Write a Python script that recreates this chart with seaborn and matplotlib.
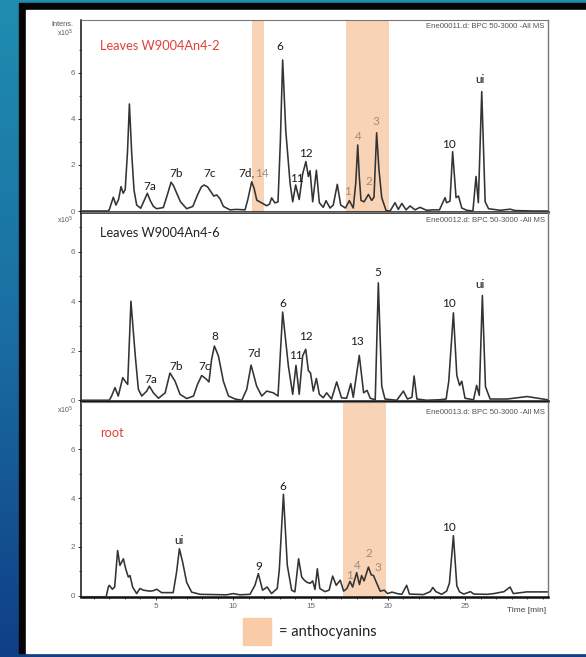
import numpy as np
import pandas as pd
import matplotlib
matplotlib.use("Agg")
import matplotlib.pyplot as plt
import seaborn as sns
from matplotlib.patches import Rectangle
from matplotlib.colors import LinearSegmentedColormap

sns.set_theme(style="white")
plt.rcParams['font.family'] = ['Lato', 'DejaVu Sans']

# ---------------- data ----------------
t1 = [0.2, 1.9, 2.0, 2.26, 2.43, 2.6, 2.76, 2.9, 3.03, 3.18, 3.30, 3.45, 3.6, 3.77, 4.03, 4.25, 4.46,
      4.65, 4.85, 5.06, 5.49, 5.75, 5.99, 6.15, 6.36, 6.6, 7.0, 7.2, 7.4, 7.7, 7.95, 8.12, 8.35, 8.6,
      8.75, 8.94, 9.16, 9.37, 9.8, 10.23, 10.77, 10.95, 11.2, 11.35, 11.53, 11.85, 12.17, 12.35, 12.49,
      12.7, 12.9, 13.05, 13.2, 13.4, 13.68, 13.85, 14.04, 14.27, 14.49, 14.7, 14.86, 14.97, 15.14,
      15.38, 15.57, 15.82, 16.0, 16.26, 16.47, 16.73, 16.95, 17.25, 17.51, 17.76, 17.92, 18.05, 18.15,
      18.26, 18.46, 18.74, 18.95, 19.1, 19.27, 19.42, 19.6, 19.88, 20.14, 20.46, 20.67, 20.9, 21.17,
      21.43, 21.75, 22.07, 22.5, 22.9, 23.33, 23.69, 23.79, 24.01, 24.18, 24.4, 24.56, 24.77, 25.1,
      25.49, 25.69, 25.84, 26.06, 26.28, 26.5, 27.25, 27.9, 28.2, 29.4, 30.3]
i1 = [0.0, 0.0, 0.05, 0.6, 0.26, 0.5, 1.06, 0.77, 0.94, 2.6, 4.65, 2.5, 0.9, 0.26, 0.12, 0.45, 0.77,
      0.45, 0.2, 0.1, 0.15, 0.7, 1.25, 1.1, 0.77, 0.4, 0.1, 0.15, 0.2, 0.7, 1.05, 1.13, 1.05, 0.8,
      0.65, 0.7, 0.52, 0.2, 0.05, 0.07, 0.05, 0.5, 1.27, 1.0, 0.47, 0.35, 0.23, 0.3, 0.57,
      0.35, 0.4, 3.0, 6.56, 3.5, 1.2, 0.4, 1.13, 0.5, 1.6, 2.15, 1.5, 1.75, 0.4,
      1.77, 0.36, 0.16, 0.45, 0.13, 0.26, 1.16, 0.26, 0.13, 0.45, 0.13, 1.2, 2.87, 1.5,
      0.46, 0.4, 0.72, 0.46, 0.6, 3.4, 1.8, 0.58, 0.02, 0.0, 0.36, 0.07, 0.33, 0.05,
      0.22, 0.05, 0.16, 0.03, 0.05, 0.05, 0.58, 0.36, 0.43, 2.58, 0.58, 0.65, 0.13, 0.03,
      0.0, 1.5, 0.36, 5.19, 0.4, 0.1, 0.03, 0.08, 0.02, 0.0, 0.0]

t2 = [0.2, 2.0, 2.15, 2.37, 2.58, 2.87, 3.06, 3.19, 3.40, 3.55, 3.7, 3.88, 4.1, 4.42, 4.59, 4.85,
      5.18, 5.61, 5.92, 6.25, 6.57, 7.0, 7.44, 7.7, 7.97, 8.29, 8.44, 8.61, 8.79, 9.05, 9.37, 9.7,
      10.13, 10.56, 10.88, 11.16, 11.52, 11.85, 12.17, 12.6, 12.9, 13.2, 13.57, 13.85, 14.06, 14.27,
      14.49, 14.69, 14.86, 15.0, 15.18, 15.38, 15.57, 15.82, 16.04, 16.36, 16.69, 17.0, 17.33, 17.6,
      17.76, 18.15, 18.43, 18.65, 18.86, 19.18, 19.38, 19.6, 19.81, 20.57, 21.0, 21.26, 21.55, 21.69,
      21.87, 22.5, 23.33, 23.76, 23.93, 24.23, 24.45, 24.63, 24.77, 24.98, 25.53, 25.73, 25.9, 26.1,
      26.3, 26.6, 27.7, 29.0, 30.3]
i2 = [0.0, 0.0, 0.17, 0.51, 0.17, 0.91, 0.74, 0.64, 4.0, 2.8, 1.65, 0.44, 0.17, 0.37, 0.57, 0.3,
      0.08, 0.3, 1.1, 0.77, 0.24, 0.07, 0.17, 0.64, 1.0, 0.84, 0.74, 1.65, 2.19, 1.79, 0.77, 0.17,
      0.05, 0.0, 0.44, 1.42, 0.57, 0.17, 0.37, 0.3, 0.17, 3.56, 1.38, 0.24, 1.41, 0.24,
      1.79, 2.06, 1.2, 1.1, 0.37, 0.88, 0.24, 0.1, 0.3, 0.05, 0.74, 0.1, 0.08, 0.67,
      0.12, 1.81, 0.3, 0.4, 0.08, 0.02, 4.74, 0.57, 0.05, 0.0, 0.37, 0.05, 0.12, 0.98,
      0.05, 0.0, 0.02, 0.05, 0.77, 3.53, 1.0, 0.6, 0.77, 0.08, 0.02, 0.6, 0.2, 4.23,
      0.55, 0.05, 0.05, 0.15, 0.02]

t3 = [0.2, 1.8, 1.94, 2.0, 2.2, 2.35, 2.54, 2.69, 2.8, 2.91, 3.06, 3.23, 3.34, 3.51, 3.77, 3.98, 4.2,
      4.63, 4.85, 5.06, 5.38, 6.13, 6.35, 6.53, 6.74, 7.0, 7.32, 7.86, 9.58, 10.01, 10.44, 11.09,
      11.41, 11.63, 11.9, 12.2, 12.48, 12.85, 12.98, 13.25, 13.5, 13.78, 13.99, 14.23, 14.43, 14.6,
      14.75, 14.97, 15.14, 15.29, 15.44, 15.6, 15.93, 16.2, 16.43, 16.66, 16.92, 17.14, 17.35, 17.55,
      17.72, 17.98, 18.16, 18.3, 18.46, 18.74, 18.92, 19.07, 19.28, 19.5, 19.76, 19.98, 20.26, 20.6,
      20.9, 21.21, 21.39, 21.87, 22.3, 22.73, 22.9, 23.1, 23.47, 23.79, 23.97, 24.23, 24.45, 24.63,
      24.9, 25.33, 25.55, 26.41, 26.84, 27.5, 27.89, 28.1, 28.97, 30.3]
i3 = [-0.05, -0.05, 0.35, 0.42, 0.26, 0.35, 1.85, 1.24, 1.37, 1.51, 1.1, 0.76, 0.82, 0.35, 0.08, 0.29, 0.22,
      0.18, 0.2, 0.26, 0.12, 0.12, 0.97, 1.92, 1.37, 0.54, 0.14, 0.05, 0.03, 0.08, 0.03, 0.05,
      0.42, 0.9, 0.22, 0.35, 0.08, 0.29, 1.03, 4.16, 1.24, 0.22, 0.15, 1.51, 0.76, 0.63,
      0.55, 0.5, 0.6, 0.25, 1.1, 0.29, 0.16, 0.22, 0.8, 0.42, 0.63, 0.18, 0.29, 0.58,
      0.35, 0.94, 0.45, 0.82, 0.6, 1.17, 0.85, 0.82, 0.5, 0.18, 0.22, 0.08, 0.14, 0.08,
      0.05, 0.42, 0.06, 0.05, 0.04, 0.16, 0.33, 0.16, 0.05, 0.18, 0.5, 2.46, 0.4, 0.15,
      0.06, 0.16, 0.06, 0.05, 0.08, 0.16, 0.35, 0.08, 0.15, 0.15]

# peak labels: (text, time, intensity, is_anthocyanin)
labels1 = [("6", 13.03, 7.17, False), ("12", 14.71, 2.5, False), ("11", 14.1, 1.42, False),
           ("7a", 4.63, 1.06, False), ("7b", 6.31, 1.64, False), ("7c", 8.46, 1.64, False),
           ("4", 18.09, 3.23, True), ("3", 19.23, 3.9, True), ("2", 18.74, 1.27, True),
           ("1", 17.4, 0.84, True), ("10", 23.97, 2.87, False), ("ui", 25.95, 5.7, False)]
labels2 = [("7a", 4.68, 0.85, False), ("7b", 6.31, 1.38, False), ("7c", 8.18, 1.38, False),
           ("8", 8.79, 2.57, False), ("7d", 11.35, 1.9, False), ("6", 13.18, 3.91, False),
           ("11", 14.06, 1.79, False), ("12", 14.71, 2.57, False), ("13", 18.03, 2.39, False),
           ("5", 19.32, 5.17, False), ("10", 23.97, 3.9, False), ("ui", 25.95, 4.68, False)]
labels3 = [("ui", 6.53, 2.26, False), ("9", 11.63, 1.2, False), ("6", 13.18, 4.48, False),
           ("1", 17.51, 0.83, True), ("4", 18.03, 1.24, True), ("2", 18.74, 1.71, True),
           ("3", 19.32, 1.17, True), ("10", 23.97, 2.8, False)]

bands1 = [(11.2, 12.0), (17.3, 20.1)]
bands3 = [(17.12, 19.88)]

titles = ["Leaves W9004An4-2", "Leaves W9004An4-6", "root"]
title_colors = ["#e0403a", "#222222", "#e0403a"]
files = ["Ene00011.d: BPC 50-3000 -All MS", "Ene00012.d: BPC 50-3000 -All MS",
         "Ene00013.d: BPC 50-3000 -All MS"]
yticks_major = [0, 2, 4, 6]
yticks_minor = [1, 3, 5, 7]
xticks_major = [5, 10, 15, 20, 25]

# ---------------- figure ----------------
W, H = 586, 657
fig = plt.figure(figsize=(W / 100, H / 100), dpi=100)

def fx(px):
    return px / W

def fy(py):
    return 1 - py / H

# background gradient
bg = fig.add_axes([0, 0, 1, 1], zorder=-10)
cmap = LinearSegmentedColormap.from_list("bg", ["#1f8db0", "#1a6ea2", "#0f3f86"])
grad = np.linspace(0, 1, 256).reshape(-1, 1)
bg.imshow(grad, aspect="auto", cmap=cmap, extent=[0, 1, 0, 1], origin="upper")
bg.add_patch(Rectangle((fx(19), fy(653)), 1, fy(3) - fy(653), color="#050505", transform=bg.transAxes))
bg.add_patch(Rectangle((fx(26), fy(653)), 1, fy(10) - fy(653), color="white", transform=bg.transAxes))
bg.set_xlim(0, 1); bg.set_ylim(0, 1)
bg.axis("off")

left, right = 81, 548
panels = [(20, 212, -0.043, 8.3), (212, 401, -0.03, 7.6), (402, 597, -0.06, 7.95)]
data = [(t1, i1), (t2, i2), (t3, i3)]
label_sets = [labels1, labels2, labels3]
band_sets = [bands1, [], bands3]

line_col = "#333333"
antho_col = "#a08c78"
band_col = "#f9d3b5"

axes = []
for k, (top, bot, ymin, ymax) in enumerate(panels):
    ax = fig.add_axes([fx(left), fy(bot), fx(right) - fx(left), (bot - top) / H])
    ax.set_facecolor("none")
    t, inten = data[k]
    df = pd.DataFrame({"time": t, "intensity": inten})
    for a, b in band_sets[k]:
        ax.axvspan(a, b, color=band_col, zorder=0, lw=0)
    sns.lineplot(data=df, x="time", y="intensity", ax=ax, color=line_col, lw=1.15,
                 estimator=None, sort=False, zorder=3)
    ax.set_xlim(0.174, 30.34)
    ax.set_ylim(ymin, ymax)
    ax.set_xlabel(""); ax.set_ylabel("")
    ax.set_yticks(yticks_major)
    ax.set_yticks(yticks_minor, minor=True)
    ax.set_yticklabels([str(v) for v in yticks_major])
    ax.tick_params(axis="y", which="major", direction="out", length=2.5, width=0.7, color="#333",
                   labelsize=5.8, labelcolor="#666666", pad=1.5, left=True)
    ax.tick_params(axis="y", which="minor", direction="out", length=1.5, width=0.6, color="#333", left=True)
    for lab in ax.get_yticklabels():
        lab.set_fontfamily(["Liberation Sans", "DejaVu Sans"])
    if k < 2:
        ax.set_xticks([])
    else:
        ax.set_xticks(xticks_major)
        ax.set_xticks(np.arange(1, 31, 1), minor=True)
        ax.set_xticklabels([str(v) for v in xticks_major])
        ax.tick_params(axis="x", which="major", direction="out", length=2.5, width=0.7, color="#333",
                       labelsize=5.8, labelcolor="#666666", pad=2, bottom=True)
        ax.tick_params(axis="x", which="minor", direction="out", length=1.5, width=0.6, color="#333",
                       bottom=True)
        for lab in ax.get_xticklabels():
            lab.set_fontfamily(["Liberation Sans", "DejaVu Sans"])
    for s in ["left", "bottom"]:
        ax.spines[s].set_visible(True)
        ax.spines[s].set_color("#111111")
    ax.spines["left"].set_linewidth(1.1)
    ax.spines["bottom"].set_linewidth(1.8)
    ax.spines["top"].set_color("#777777"); ax.spines["top"].set_linewidth(0.8)
    ax.spines["right"].set_color("#777777"); ax.spines["right"].set_linewidth(1.0)
    for txt, tx, iy, anth in label_sets[k]:
        ax.text(tx, iy, txt, ha="center", va="center", fontsize=8.5,
                color=antho_col if anth else "#1a1a1a", zorder=5)
    axes.append(ax)

# "7d,14" label in panel 1 with two colours
axes[0].text(11.41, 1.64, "7d,", ha="right", va="center", fontsize=8.5, color="#1a1a1a", zorder=5)
axes[0].text(11.41, 1.64, "14", ha="left", va="center", fontsize=8.5, color=antho_col, zorder=5)

# titles and file captions
title_y = [46, 233, 433]
file_y = [26, 220, 413]
for k in range(3):
    fig.text(fx(100.5), fy(title_y[k]), titles[k], ha="left", va="center", fontsize=9.2,
             color=title_colors[k])
    fig.text(fx(545), fy(file_y[k]), files[k], ha="right", va="center", fontsize=5.6,
             color="#555555", family=["Liberation Sans", "DejaVu Sans"])

# intensity unit labels
fig.text(fx(73.5), fy(24), "Intens.", ha="right", va="center", fontsize=5.3, color="#555555",
         family=["Liberation Sans", "DejaVu Sans"])
for yy in [33, 220, 410]:
    fig.text(fx(73.5), fy(yy), "x10$^5$", ha="right", va="center", fontsize=5.0, color="#555555",
             family=["Liberation Sans", "DejaVu Sans"])

fig.text(fx(546), fy(610), "Time [min]", ha="right", va="center", fontsize=6, color="#444444",
         family=["Liberation Sans", "DejaVu Sans"])

# legend
bg2 = fig.add_axes([0, 0, 1, 1], zorder=-5)
bg2.set_xlim(0, 1); bg2.set_ylim(0, 1); bg2.axis("off")
bg2.add_patch(Rectangle((fx(243), fy(645)), fx(271) - fx(243), fy(618) - fy(645), color="#f9cba6"))
fig.text(fx(279), fy(632), "= anthocyanins", ha="left", va="center", fontsize=10.5, color="#222222")

fig.savefig("out.png", dpi=100)
